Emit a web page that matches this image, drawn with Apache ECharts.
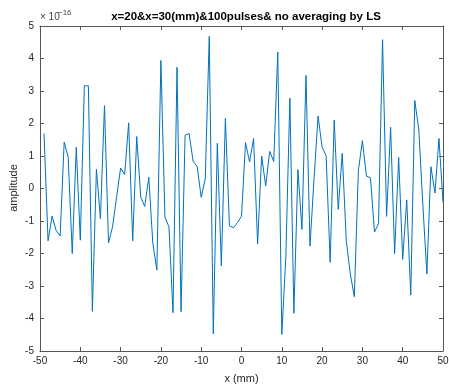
<!DOCTYPE html>
<html><head><meta charset="utf-8">
<script src="https://cdn.jsdelivr.net/npm/echarts@6/dist/echarts.min.js"></script>
<style>html,body{margin:0;padding:0;background:#fff}#c{width:449px;height:390px}</style>
</head><body><div id="c"></div>
<script>
// x positions (mm)
const xPositions = [-49,-48,-47,-46,-45,-44,-43,-42,-41,-40,-39,-38,-37,-36,-35,-34,-33,-32,-31,-30,
  -29,-28,-27,-26,-25,-24,-23,-22,-21,-20,-19,-18,-17,-16,-15,-14,-13,-12,-11,-10,
  -9,-8,-7,-6,-5,-4,-3,-2,-1,0,1,2,3,4,5,6,7,8,9,10,
  11,12,13,14,15,16,17,18,19,20,21,22,23,24,25,26,27,28,29,30,
  31,32,33,34,35,36,37,38,39,40,41,42,43,44,45,46,47,48,49,50];
// amplitude in units of 1e-16
const amplitude = [1.69,-1.61,-0.85,-1.29,-1.46,1.43,0.96,-2.0,1.27,-1.59,3.16,3.16,-3.78,0.59,-0.93,2.55,-1.67,-1.18,-0.27,0.63,
  0.43,2.02,-1.61,1.6,-0.27,-0.55,0.35,-1.69,-2.51,3.94,-0.88,-1.18,-3.82,3.73,-3.79,1.64,1.69,0.83,0.68,-0.27,
  0.29,4.68,-4.47,1.39,-2.38,2.16,-1.15,-1.21,-1.05,-0.85,1.41,0.82,1.54,-1.7,1.0,0.08,1.14,0.83,4.2,-4.49,
  -2.1,2.78,-3.84,0.58,-1.26,3.48,-1.77,0.3,2.23,1.27,1.01,-2.27,2.1,-0.64,1.08,-1.6,-2.63,-3.33,0.55,1.47,
  0.38,0.33,-1.34,-1.08,4.58,-0.86,1.88,-2.0,0.96,-2.18,-0.35,-3.28,2.71,1.8,-0.5,-2.63,0.67,-0.14,1.54,-0.42];
const xTickLabels = [-50,-40,-30,-20,-10,0,10,20,30,40,50];
const yTickLabels = [-5,-4,-3,-2,-1,0,1,2,3,4,5];
const titleText = 'x=20&x=30(mm)&100pulses& no averaging by LS';
const yName = 'amplitude';

const font = 'Liberation Sans, Arial, Helvetica, sans-serif';
const axisCol = '#555';
const txtCol = '#262626';
const chart = echarts.init(document.getElementById('c'), null, {renderer:'canvas'});
const pts = xPositions.map((x,i)=>[x, amplitude[i]]);
const baseX = {type:'value', min:xTickLabels[0], max:xTickLabels[xTickLabels.length-1], interval:10,
  axisLine:{show:true,onZero:false,lineStyle:{color:axisCol,width:1}},
  axisTick:{show:true,inside:true,length:4,lineStyle:{color:axisCol}},
  splitLine:{show:false}};
const baseY = {type:'value', min:yTickLabels[0], max:yTickLabels[yTickLabels.length-1], interval:1,
  axisLine:{show:true,onZero:false,lineStyle:{color:axisCol,width:1}},
  axisTick:{show:true,inside:true,length:4,lineStyle:{color:axisCol}},
  splitLine:{show:false}};
chart.setOption({
  animation:false,
  backgroundColor:'#fff',
  title:{text:titleText,left:241,textAlign:'center',top:6,
    textStyle:{fontFamily:font,fontSize:11.5,fontWeight:'bold',color:'#000'}},
  grid:{left:40,right:6,top:26,bottom:39,containLabel:false,outerBoundsMode:'none'},
  xAxis:[
    Object.assign({}, baseX, {position:'bottom',name:'x (mm)',nameLocation:'middle',nameGap:22,
      nameTextStyle:{fontFamily:font,fontSize:11,color:txtCol},
      axisLabel:{fontFamily:font,fontSize:10,color:txtCol,margin:5}}),
    Object.assign({}, baseX, {position:'top',axisLabel:{show:false}})
  ],
  yAxis:[
    Object.assign({}, baseY, {position:'left',
      axisLabel:{fontFamily:font,fontSize:10,color:txtCol,margin:6}}),
    Object.assign({}, baseY, {position:'right',axisLabel:{show:false}})
  ],
  graphic:[
    {type:'text',x:14,y:188,rotation:Math.PI/2,
      style:{text:yName,fontFamily:font,fontSize:11,fill:txtCol,align:'center',verticalAlign:'middle'}},
    {type:'text',left:40,top:12,style:{text:'× 10',fontFamily:font,fontSize:10,fill:'#444'}},
    {type:'text',left:58,top:9,style:{text:'\u221216',fontFamily:font,fontSize:8,fill:'#444'}}
  ],
  series:[{type:'line',data:pts,showSymbol:false,symbol:'none',
    lineStyle:{color:'#0072BD',width:1},clip:true}]
});
</script></body></html>
